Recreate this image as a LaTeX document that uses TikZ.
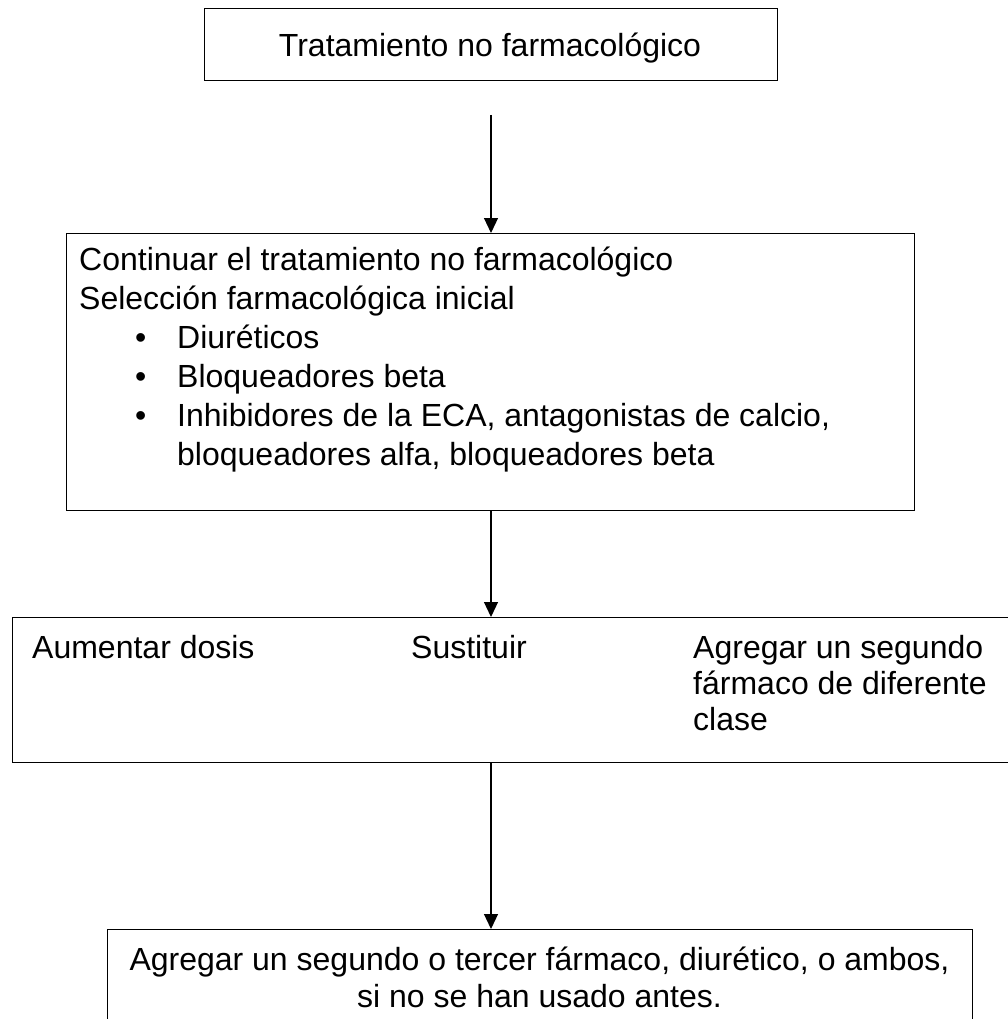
\documentclass[tikz,border=0pt]{standalone}
\usepackage{fontspec}
\setmainfont{Liberation Sans}
\usetikzlibrary{arrows.meta}
\begin{document}
\begin{tikzpicture}[x=1pt,y=-1pt,
  box/.style={draw, line width=1.3pt, inner sep=0pt, anchor=north west},
  txt/.style={inner sep=0pt, anchor=base west, font=\fontsize{32}{37}\selectfont},
  ctxt/.style={inner sep=0pt, anchor=base, font=\fontsize{32}{37}\selectfont},
  conn/.style={-{Triangle[length=15pt,width=14pt]}, line width=1.2pt}]
\useasboundingbox (0,0) rectangle (1008,1019);
\fill[white] (0,0) rectangle (1008,1019);

% boxes
\node[box, minimum width=573pt, minimum height=72pt] (b1) at (204,8) {};
\node[box, minimum width=848pt, minimum height=277pt] (b2) at (66,233) {};
\node[box, minimum width=1030pt, minimum height=145pt] (b3) at (12,617) {};
\node[box, minimum width=865pt, minimum height=120pt] (b4) at (107,929) {};

% box 1 text
\node[ctxt] (t1) at (490,57) {Tratamiento no farmacológico};

% box 2 text
\node[txt] (t2a) at (79,270) {Continuar el tratamiento no farmacológico};
\node[txt] (t2b) at (79,309) {Selección farmacológica inicial};
\node[txt] (d1) at (135,348) {•};
\node[txt] (t2c) at (177,348) {Diuréticos};
\node[txt] (d2) at (135,387) {•};
\node[txt] (t2d) at (177,387) {Bloqueadores beta};
\node[txt] (d3) at (135,426) {•};
\node[txt] (t2e) at (177,426) {Inhibidores de la ECA, antagonistas de calcio,};
\node[txt] (t2f) at (177,465) {bloqueadores alfa, bloqueadores beta};

% box 3 text
\node[txt] (t3a) at (32,658) {Aumentar dosis};
\node[txt] (t3b) at (411,658) {Sustituir};
\node[txt] (t3c) at (693,658) {Agregar un segundo};
\node[txt] (t3d) at (693,694) {fármaco de diferente};
\node[txt] (t3e) at (693,730) {clase};

% box 4 text
\node[ctxt] (t4a) at (539.5,970) {Agregar un segundo o tercer fármaco, diurético, o ambos,};
\node[ctxt] (t4b) at (539.5,1007) {si no se han usado antes.};

% connectors
\coordinate (s1) at (491,115);
\draw[conn] (s1) -- (s1 |- b2.north);
\draw[conn] (b2.south -| s1) -- (s1 |- b3.north);
\draw[conn] (b3.south -| s1) -- (s1 |- b4.north);
\end{tikzpicture}
\end{document}
